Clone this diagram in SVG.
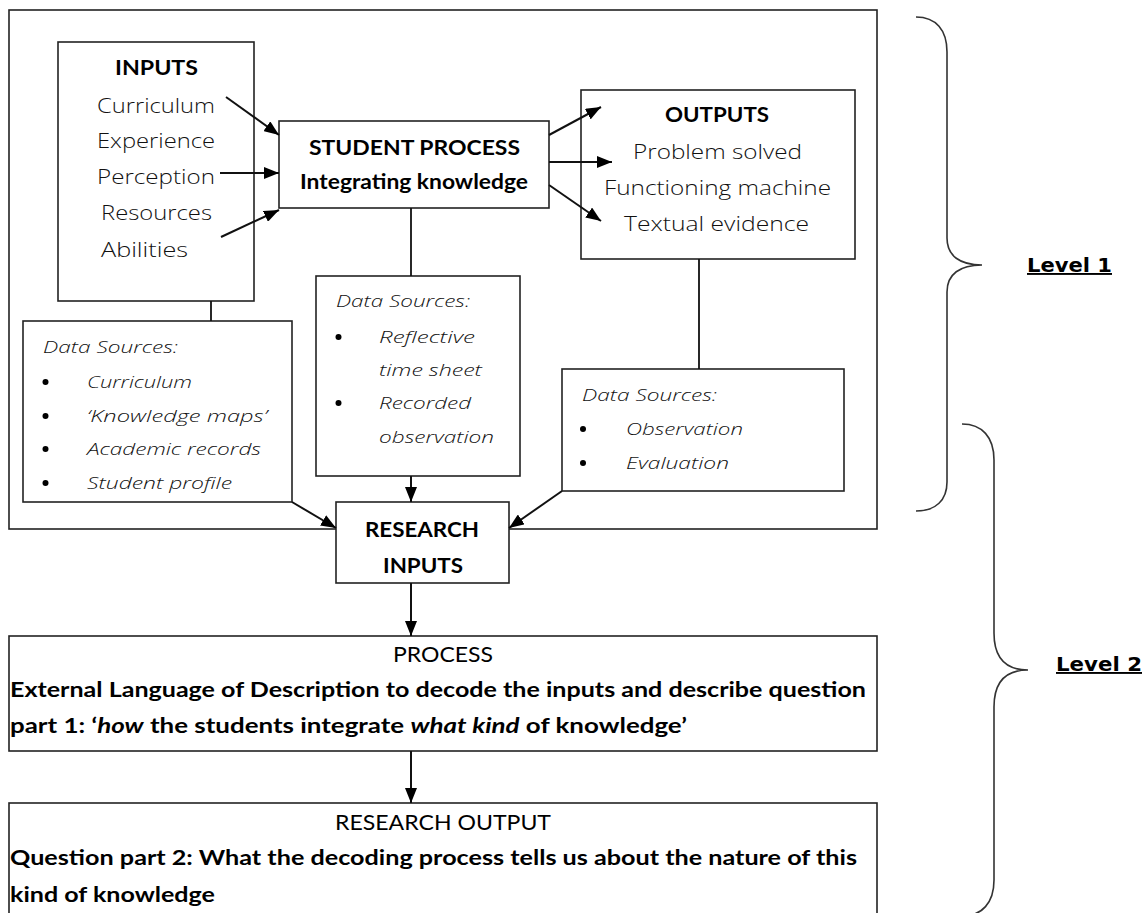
<svg xmlns="http://www.w3.org/2000/svg" width="1146" height="913" viewBox="0 0 1146 913">
  <style>
    .box { fill: #ffffff; stroke: #222222; stroke-width: 1.6; }
    .frame { fill: none; stroke: #222222; stroke-width: 1.6; }
    .link { fill: none; stroke: #111111; stroke-width: 1.8; }
    .arrow { fill: none; stroke: #111111; stroke-width: 2; marker-end: url(#head); }
    .brace { fill: none; stroke: #333333; stroke-width: 1.6; }
    .lt { font-family: "Open Sans", "DejaVu Sans", sans-serif; font-weight: 300; font-size: 21px; fill: #111111; }
    .it { font-family: "Open Sans", "DejaVu Sans", sans-serif; font-style: italic; font-weight: 300; font-size: 17px; fill: #111111; }
    .hd { font-family: "Lato", "Liberation Sans", sans-serif; font-weight: bold; font-size: 21px; fill: #000000; }
    .rg { font-family: "Lato", "Liberation Sans", sans-serif; font-weight: normal; font-size: 21px; fill: #000000; }
    .bd { font-family: "Lato", "Liberation Sans", sans-serif; font-weight: bold; font-size: 21px; fill: #000000; }
    .lvl { font-family: "DejaVu Sans", "Liberation Sans", sans-serif; font-weight: bold; font-size: 19px; fill: #000000; text-decoration: underline; }
    .dot { fill: #000000; }
  </style>
  <defs>
    <marker id="head" markerUnits="userSpaceOnUse" markerWidth="15" markerHeight="12" refX="15" refY="6" orient="auto">
      <path d="M0,0 L15,6 L0,12 z" fill="#000000"/>
    </marker>
  </defs>

  <rect width="1146" height="913" fill="#ffffff"/>

  <!-- Level 1 frame -->
  <rect id="level1-frame" class="frame" x="9" y="10" width="868" height="519"/>

  <!-- inputs -->
  <g id="inputs">
    <rect class="box" x="58" y="42" width="196" height="259"/>
    <text class="hd" x="115" y="75" textLength="83" lengthAdjust="spacingAndGlyphs">INPUTS</text>
    <text class="lt" x="97" y="113" textLength="118" lengthAdjust="spacingAndGlyphs">Curriculum</text>
    <text class="lt" x="97" y="148" textLength="118" lengthAdjust="spacingAndGlyphs">Experience</text>
    <text class="lt" x="97" y="184" textLength="118" lengthAdjust="spacingAndGlyphs">Perception</text>
    <text class="lt" x="101" y="220" textLength="111" lengthAdjust="spacingAndGlyphs">Resources</text>
    <text class="lt" x="101" y="257" textLength="87" lengthAdjust="spacingAndGlyphs">Abilities</text>
  </g>

  <!-- student process -->
  <g id="student-process">
    <rect class="box" x="279" y="121" width="270" height="87"/>
    <text class="hd" x="309" y="155" textLength="211" lengthAdjust="spacingAndGlyphs">STUDENT PROCESS</text>
    <text class="hd" x="300" y="189" textLength="228" lengthAdjust="spacingAndGlyphs">Integrating knowledge</text>
  </g>

  <!-- outputs -->
  <g id="outputs">
    <rect class="box" x="581" y="90" width="274" height="169"/>
    <text class="hd" x="665" y="122" textLength="104" lengthAdjust="spacingAndGlyphs">OUTPUTS</text>
    <text class="lt" x="633" y="159" textLength="169" lengthAdjust="spacingAndGlyphs">Problem solved</text>
    <text class="lt" x="604" y="195" textLength="227" lengthAdjust="spacingAndGlyphs">Functioning machine</text>
    <text class="lt" x="624" y="231" textLength="185" lengthAdjust="spacingAndGlyphs">Textual evidence</text>
  </g>

  <!-- data sources for inputs -->
  <g id="data-sources-inputs">
    <rect class="box" x="23" y="321" width="269" height="181"/>
    <text class="it" x="43" y="353" textLength="135" lengthAdjust="spacingAndGlyphs">Data Sources:</text>
    <circle class="dot" cx="45.5" cy="382" r="3"/>
    <circle class="dot" cx="45.5" cy="416" r="3"/>
    <circle class="dot" cx="45.5" cy="449" r="3"/>
    <circle class="dot" cx="45.5" cy="483" r="3"/>
    <text class="it" x="87" y="388" textLength="105" lengthAdjust="spacingAndGlyphs">Curriculum</text>
    <text class="it" x="87" y="422" textLength="180" lengthAdjust="spacingAndGlyphs">‘Knowledge maps’</text>
    <text class="it" x="87" y="455" textLength="174" lengthAdjust="spacingAndGlyphs">Academic records</text>
    <text class="it" x="87" y="489" textLength="145" lengthAdjust="spacingAndGlyphs">Student profile</text>
  </g>

  <!-- data sources for the student process -->
  <g id="data-sources-process">
    <rect class="box" x="316" y="276" width="204" height="200"/>
    <text class="it" x="336" y="307" textLength="134" lengthAdjust="spacingAndGlyphs">Data Sources:</text>
    <circle class="dot" cx="338.5" cy="337" r="3"/>
    <circle class="dot" cx="338.5" cy="403" r="3"/>
    <text class="it" x="379" y="343" textLength="96" lengthAdjust="spacingAndGlyphs">Reflective</text>
    <text class="it" x="379" y="376" textLength="103" lengthAdjust="spacingAndGlyphs">time sheet</text>
    <text class="it" x="379" y="409" textLength="92" lengthAdjust="spacingAndGlyphs">Recorded</text>
    <text class="it" x="379" y="443" textLength="115" lengthAdjust="spacingAndGlyphs">observation</text>
  </g>

  <!-- data sources for outputs -->
  <g id="data-sources-outputs">
    <rect class="box" x="562" y="369" width="282" height="122"/>
    <text class="it" x="582" y="401" textLength="135" lengthAdjust="spacingAndGlyphs">Data Sources:</text>
    <circle class="dot" cx="583" cy="429" r="3"/>
    <circle class="dot" cx="583" cy="463" r="3"/>
    <text class="it" x="626" y="435" textLength="117" lengthAdjust="spacingAndGlyphs">Observation</text>
    <text class="it" x="626" y="469" textLength="103" lengthAdjust="spacingAndGlyphs">Evaluation</text>
  </g>

  <!-- research inputs -->
  <g id="research-inputs">
    <rect class="box" x="336" y="502" width="173" height="81"/>
    <text class="hd" x="365" y="537" textLength="114" lengthAdjust="spacingAndGlyphs">RESEARCH</text>
    <text class="hd" x="383" y="573" textLength="80" lengthAdjust="spacingAndGlyphs">INPUTS</text>
  </g>

  <!-- process -->
  <g id="process">
    <rect class="box" x="9" y="636" width="868" height="115"/>
    <text class="rg" x="393" y="662" textLength="100" lengthAdjust="spacingAndGlyphs">PROCESS</text>
    <text class="bd" x="10" y="697" textLength="856" lengthAdjust="spacingAndGlyphs">External Language of Description to decode the inputs and describe question</text>
    <text class="bd" x="10" y="733" textLength="677" lengthAdjust="spacingAndGlyphs">part 1: ‘<tspan font-style="italic">how</tspan> the students integrate <tspan font-style="italic">what kind</tspan> of knowledge’</text>
  </g>

  <!-- research output -->
  <g id="research-output">
    <rect class="box" x="9" y="803" width="868" height="120"/>
    <text class="rg" x="335" y="830" textLength="216" lengthAdjust="spacingAndGlyphs">RESEARCH OUTPUT</text>
    <text class="bd" x="10" y="865" textLength="847" lengthAdjust="spacingAndGlyphs">Question part 2: What the decoding process tells us about the nature of this</text>
    <text class="bd" x="10" y="902" textLength="205" lengthAdjust="spacingAndGlyphs">kind of knowledge</text>
  </g>

  <!-- connectors, drawn over the boxes so the arrows can reach into them -->
  <g id="connectors">
    <line class="link" x1="211" y1="301" x2="211" y2="321"/>
    <line class="link" x1="411" y1="208" x2="411" y2="276"/>
    <line class="link" x1="699" y1="259" x2="699" y2="369"/>
    <line class="arrow" x1="226" y1="97" x2="279" y2="135"/>
    <line class="arrow" x1="220" y1="173" x2="279" y2="173"/>
    <line class="arrow" x1="221" y1="237" x2="279" y2="210"/>
    <line class="arrow" x1="549" y1="135" x2="601" y2="107"/>
    <line class="arrow" x1="549" y1="162" x2="612" y2="162"/>
    <line class="arrow" x1="549" y1="185" x2="601" y2="221"/>
    <line class="arrow" x1="411" y1="476" x2="411" y2="502"/>
    <line class="arrow" x1="292" y1="502" x2="336" y2="528"/>
    <line class="arrow" x1="562" y1="491" x2="509" y2="528"/>
    <line class="arrow" x1="411" y1="583" x2="411" y2="636"/>
    <line class="arrow" x1="411" y1="751" x2="411" y2="803"/>
  </g>

  <!-- level braces -->
  <g id="level-1">
    <path class="brace" d="M916,17 C936,17 947,30 947,52 L947,238 C947,256 960,265 982,265 C960,265 947,274 947,292 L947,482 C947,500 936,511 916,511"/>
    <text class="lvl" x="1027" y="272" textLength="85" lengthAdjust="spacingAndGlyphs">Level 1</text>
  </g>
  <g id="level-2">
    <path class="brace" d="M962,424 C982,424 994,437 994,460 L994,633 C994,659 1006,670 1028,670 C1006,670 994,681 994,707 L994,880 C994,903 982,916 962,916"/>
    <text class="lvl" x="1056" y="671" textLength="86" lengthAdjust="spacingAndGlyphs">Level 2</text>
  </g>
</svg>
